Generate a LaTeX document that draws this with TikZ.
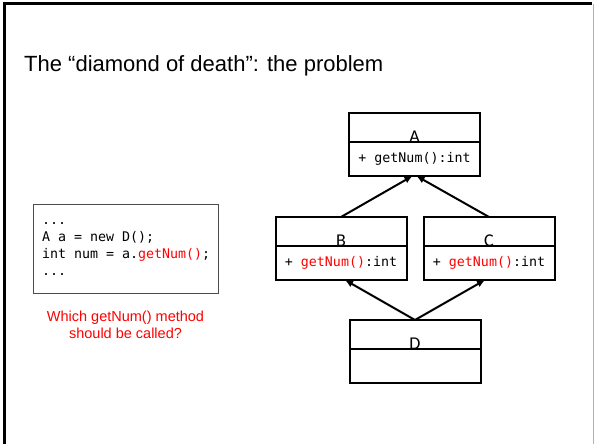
\documentclass[tikz,border=0pt]{standalone}
\usepackage{fontspec}
\setmainfont{Liberation Sans}
\newfontfamily\codefont{DejaVu Sans Mono}
\newfontfamily\namefont{Carlito}
\usetikzlibrary{positioning,arrows.meta}

\definecolor{callred}{RGB}{255,0,0}
\newcommand{\getnum}{\textcolor{callred}{getNum()}}

\tikzset{
  classname/.style={draw, line width=2pt, outer sep=0pt, inner sep=0pt, minimum width=131pt, minimum height=29pt},
  classops/.style={draw, line width=2pt, outer sep=0pt, inner sep=0pt, minimum width=131pt, minimum height=34pt, font=\codefont\fontsize{13.3}{16}\selectfont},
  nametext/.style={anchor=base, inner sep=0pt, font=\namefont\fontsize{18}{20}\selectfont},
  inherits/.style={line width=2pt, -{Latex[length=8pt,width=7pt]}},
}

\begin{document}
\begin{tikzpicture}[x=1pt, y=-1pt]
\useasboundingbox (0,0) rectangle (594,444);
% slide frame
\draw[line width=3pt] (4,444) -- (4,4) -- (592,4);
\draw[gray!60, line width=1pt] (593,4) -- (593,444);

\node[anchor=base west, inner sep=0pt, font=\fontsize{22}{26}\selectfont] (title) at (24,71) {The “diamond of death”: the problem};

% code and question
\node[draw=black!70, line width=1.2pt, anchor=north west, minimum width=185pt, minimum height=89pt, align=left, font=\codefont\fontsize{13.3}{17}\selectfont] (code) at (33,204) {...\\A a = new D();\\int num = a.\getnum;\\...};
\node[text=callred, align=center, inner sep=0pt, font=\fontsize{14.5}{17}\selectfont] (question) at (125.5,325) {Which getNum() method\\should be called?};

% classes
\node[classname, label={[nametext]south:A}] (clsA) at (414.5,127.5) {};
\node[classops, below=0pt of clsA] (opsA) {+ getNum():int};

\node[classname, label={[nametext]south:B}] (clsB) at (341,231.5) {};
\node[classops, below=0pt of clsB] (opsB) {+ \getnum:int};

\node[classname, label={[nametext]south:C}] (clsC) at (489,231.5) {};
\node[classops, below=0pt of clsC] (opsC) {+ \getnum:int};

\node[classname, label={[nametext]south:D}] (clsD) at (415,334.5) {};
\node[classops, below=0pt of clsD] (opsD) {};

% inheritance
\draw[inherits] (clsB.north) -- ([xshift=-2pt]opsA.south);
\draw[inherits] (clsC.north) -- ([xshift=2pt]opsA.south);
\draw[inherits] (clsD.north) -- ([xshift=4pt]opsB.south);
\draw[inherits] (clsD.north) -- ([xshift=-4pt]opsC.south);
\end{tikzpicture}
\end{document}
